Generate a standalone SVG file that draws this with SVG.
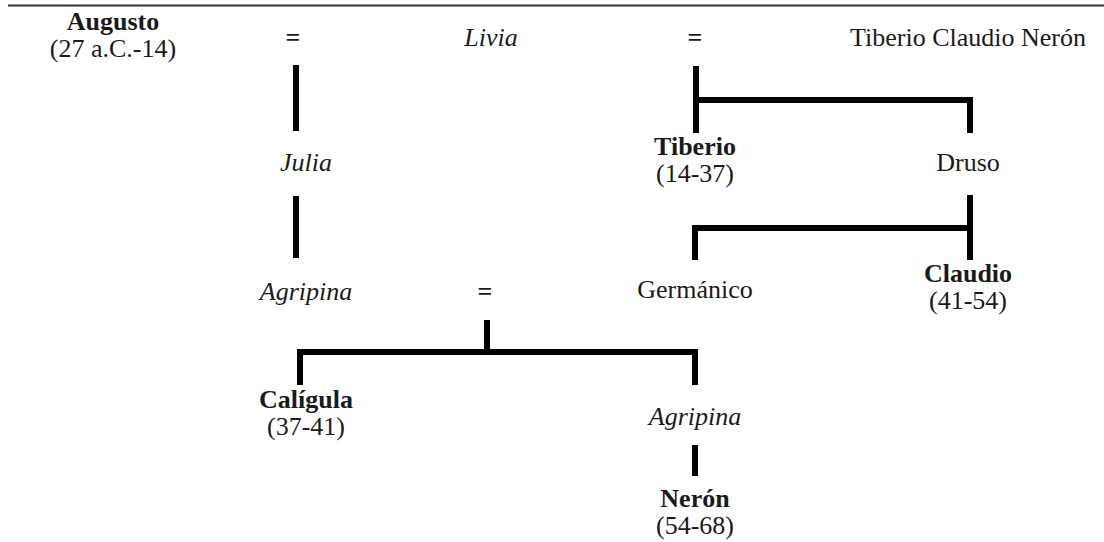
<svg xmlns="http://www.w3.org/2000/svg" width="1104" height="542" viewBox="0 0 1104 542">
<style>
text{font-family:'Liberation Serif','Times New Roman',Times,serif;font-size:26px;fill:#1a1a1a;text-anchor:middle}
.b{font-weight:bold}
.i{font-style:italic}
.ln{stroke:#000;stroke-width:6;fill:none;stroke-linecap:butt}
</style>
<rect width="1104" height="542" fill="#fff"/>
<line x1="8" y1="5.5" x2="1104" y2="5.5" stroke="#333" stroke-width="2"/>
<g id="connectors">
<path class="ln" d="M296 65V131"/>
<path class="ln" d="M296 196V258"/>
<path class="ln" d="M487 320V352"/>
<path class="ln" d="M300 385V352H695V385"/>
<path class="ln" d="M695 445V476"/>
<path class="ln" d="M696 66V133"/>
<path class="ln" d="M696 100H970V133"/>
<path class="ln" d="M970 195V260"/>
<path class="ln" d="M970 228H695V260"/>
</g>
<g id="augusto"><text class="b" x="113" y="30">Augusto</text><text x="113" y="57">(27 a.C.-14)</text></g>
<g id="eq1"><text class="b" x="293" y="46">=</text></g>
<g id="livia"><text class="i" x="491" y="46">Livia</text></g>
<g id="eq2"><text class="b" x="695" y="46">=</text></g>
<g id="tcn"><text x="968" y="46">Tiberio Claudio Nerón</text></g>
<g id="julia"><text class="i" x="306" y="171">Julia</text></g>
<g id="tiberio"><text class="b" x="695" y="155">Tiberio</text><text x="695" y="182">(14-37)</text></g>
<g id="druso"><text x="968" y="171">Druso</text></g>
<g id="agripina1"><text class="i" x="306" y="300">Agripina</text></g>
<g id="eq3"><text class="b" x="485" y="300">=</text></g>
<g id="germanico"><text x="695" y="298">Germánico</text></g>
<g id="claudio"><text class="b" x="968" y="282">Claudio</text><text x="968" y="309">(41-54)</text></g>
<g id="caligula"><text class="b" x="306" y="408">Calígula</text><text x="306" y="435">(37-41)</text></g>
<g id="agripina2"><text class="i" x="695" y="425">Agripina</text></g>
<g id="neron"><text class="b" x="695" y="507">Nerón</text><text x="695" y="534">(54-68)</text></g>
</svg>
